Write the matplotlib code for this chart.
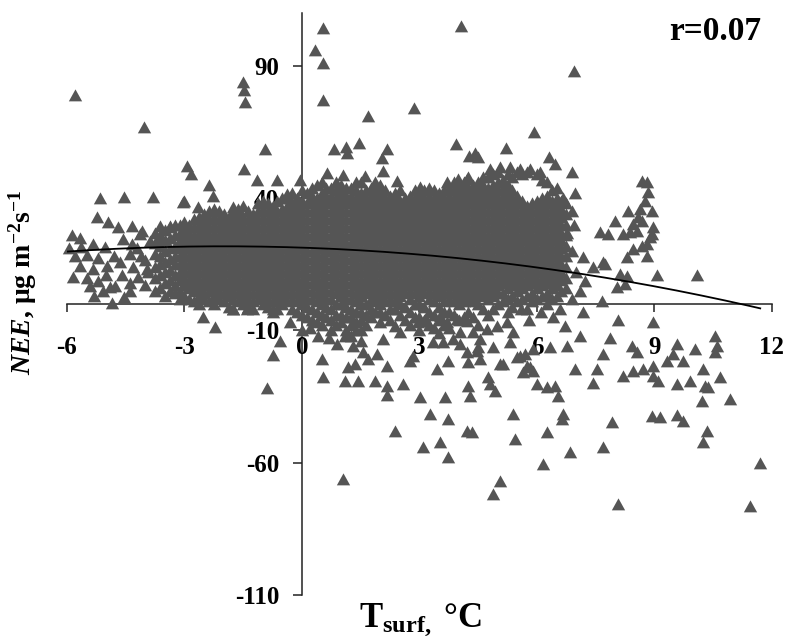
import numpy as np
import matplotlib
matplotlib.use("Agg")
import matplotlib.pyplot as plt
from matplotlib.path import Path

plt.rcParams['font.family'] = ['Liberation Serif', 'DejaVu Serif']
plt.rcParams['font.weight'] = 'bold'
plt.rcParams['axes.unicode_minus'] = False
plt.rcParams['mathtext.fontset'] = 'custom'
plt.rcParams['mathtext.rm'] = 'Liberation Serif:bold'
plt.rcParams['mathtext.it'] = 'Liberation Serif:italic:bold'
plt.rcParams['mathtext.bf'] = 'Liberation Serif:bold'

# surface temperature (degC) vs NEE
# dense part of the cloud: one list of NEE values per temperature column
core_t = [-3.75, -3.5, -3.25, -3.0, -2.75, -2.5, -2.25, -2.0, -1.75, -1.5,
          -1.25, -1.0, -0.75, -0.5, -0.25, 0.0, 0.25, 0.5, 0.75, 1.0,
          1.25, 1.5, 1.75, 2.0, 2.25, 2.5, 2.75, 3.0, 3.25, 3.5,
          3.75, 4.0, 4.25, 4.5, 4.75, 5.0, 5.25, 5.5, 5.75, 6.0,
          6.25, 6.5, 6.75]
core_nee = [
    [5, 10, 14, 19, 23, 27],
    [3, 8, 12, 16, 20, 24, 28],
    [4, 7, 11, 15, 18, 22, 26, 30],
    [3, 7, 10, 13, 16, 19, 22, 25, 28, 31],
    [1, 5, 8, 11, 14, 17, 20, 23, 26, 29, 32],
    [2, 4, 7, 10, 13, 16, 19, 22, 25, 28, 31, 34],
    [0, 3, 6, 9, 12, 15, 18, 21, 24, 27, 30, 33, 36],
    [1, 4, 7, 10, 13, 16, 19, 22, 25, 28, 31, 34],
    [-2, 2, 5, 8, 11, 14, 17, 20, 23, 26, 29, 32, 35],
    [0, 3, 6, 9, 12, 15, 18, 21, 24, 27, 30, 33, 37],
    [-2, 1, 4, 7, 10, 13, 16, 19, 22, 25, 28, 31, 34],
    [0, 3, 6, 9, 12, 15, 18, 21, 24, 27, 30, 33, 36, 39],
    [-3, 1, 4, 7, 10, 13, 16, 19, 22, 25, 28, 31, 34, 37],
    [0, 3, 6, 9, 12, 15, 18, 21, 24, 27, 30, 33, 36, 40],
    [-2, 2, 5, 8, 11, 14, 17, 20, 23, 26, 29, 32, 35, 38, 42],
    [-4, 0, 3, 6, 9, 12, 15, 18, 21, 24, 27, 30, 33, 36, 39, 43],
    [-6, -2, 2, 5, 8, 11, 14, 17, 20, 23, 26, 29, 32, 35, 38, 41, 44],
    [-8, -4, 0, 3, 6, 9, 12, 15, 18, 21, 24, 27, 30, 33, 36, 39, 42, 46],
    [-10, -6, -2, 2, 5, 8, 11, 14, 17, 20, 23, 26, 29, 32, 35, 38, 41, 44],
    [-7, -4, 0, 3, 6, 9, 12, 15, 18, 21, 24, 27, 30, 33, 36, 39, 42, 45],
    [-12, -8, -5, -2, 2, 5, 8, 11, 14, 17, 20, 23, 26, 29, 32, 35, 38, 41, 44],
    [-14, -10, -6, -3, 0, 3, 6, 9, 12, 15, 18, 21, 24, 27, 30, 33, 36, 39, 42, 46],
    [-5, -2, 2, 5, 8, 11, 14, 17, 20, 23, 26, 29, 32, 35, 38, 41, 44],
    [-3, 0, 3, 6, 9, 12, 15, 18, 21, 24, 27, 30, 33, 36, 39, 42, 45],
    [-6, -2, 2, 5, 8, 11, 14, 17, 20, 23, 26, 29, 32, 35, 38, 41],
    [-4, 0, 3, 6, 9, 12, 15, 18, 21, 24, 27, 30, 33, 36, 39, 43],
    [-8, -3, 2, 5, 8, 11, 14, 17, 20, 23, 26, 29, 32, 35, 38, 41],
    [-10, -5, 0, 3, 6, 9, 12, 15, 18, 21, 24, 27, 30, 33, 36, 39, 42],
    [-8, -3, 2, 5, 8, 11, 14, 17, 20, 23, 26, 29, 32, 35, 38, 41, 44],
    [-11, -6, -1, 3, 6, 9, 12, 15, 18, 21, 24, 27, 30, 33, 36, 39, 42],
    [-9, -3, 2, 5, 8, 11, 14, 17, 20, 23, 26, 29, 32, 35, 38, 41, 44],
    [-6, 0, 3, 6, 9, 12, 15, 18, 21, 24, 27, 30, 33, 36, 39, 42, 45],
    [-3, 2, 5, 8, 11, 14, 17, 20, 23, 26, 29, 32, 35, 38, 41, 44, 48],
    [-8, 0, 4, 7, 10, 13, 16, 19, 22, 25, 28, 31, 34, 37, 40, 43, 46],
    [-4, 2, 5, 8, 11, 14, 17, 20, 23, 26, 29, 32, 35, 38, 41, 44, 48],
    [0, 4, 7, 10, 13, 16, 19, 22, 25, 28, 31, 34, 37, 40, 43, 46, 50],
    [-3, 2, 6, 9, 12, 15, 18, 21, 24, 27, 30, 33, 36, 39, 42, 45, 49],
    [1, 5, 8, 11, 14, 17, 20, 23, 26, 29, 32, 35, 38, 41, 50],
    [-2, 3, 7, 10, 13, 16, 19, 22, 25, 28, 31, 34, 37, 50],
    [2, 6, 9, 12, 15, 18, 21, 24, 27, 30, 33, 36, 39, 49],
    [0, 4, 8, 11, 14, 17, 20, 23, 26, 29, 32, 35, 38, 41, 46],
    [3, 7, 10, 13, 16, 19, 22, 25, 28, 31, 34, 37, 40, 44],
    [6, 10, 14, 18, 22, 26, 30, 34, 38],
]

# columns in between the ones above
core2_t = [-3.625, -3.375, -3.125, -2.875, -2.625, -2.375, -2.125, -1.875, -1.625, -1.375,
           -1.125, -0.875, -0.625, -0.375, -0.125, 0.125, 0.375, 0.625, 0.875, 1.125,
           1.375, 1.625, 1.875, 2.125, 2.375, 2.625, 2.875, 3.125, 3.375, 3.625,
           3.875, 4.125, 4.375, 4.625, 4.875, 5.125, 5.375, 5.625, 5.875, 6.125,
           6.375, 6.625]
core2_nee = [
    [6, 11, 15, 18, 22, 26],
    [5, 9, 13, 17, 21, 25, 29],
    [2, 5, 9, 12, 15, 18, 21, 24, 27, 30],
    [2, 6, 9, 12, 15, 18, 21, 24, 27, 30],
    [0, 3, 6, 9, 12, 15, 18, 21, 24, 27, 30, 33],
    [1, 5, 8, 11, 14, 17, 20, 23, 26, 29, 32, 35],
    [2, 5, 8, 11, 14, 17, 20, 23, 26, 29, 32, 35],
    [-1, 3, 6, 9, 12, 15, 18, 21, 24, 27, 30, 33],
    [1, 4, 7, 10, 13, 16, 19, 22, 25, 28, 31, 34, 36],
    [-1, 2, 5, 8, 11, 14, 17, 20, 23, 26, 29, 32, 35],
    [2, 5, 8, 11, 14, 17, 20, 23, 26, 29, 32, 35, 38],
    [-1, 2, 5, 8, 11, 14, 17, 20, 23, 26, 29, 32, 35, 38],
    [-2, 2, 5, 8, 11, 14, 17, 20, 23, 26, 29, 32, 35, 39],
    [1, 4, 7, 10, 13, 16, 19, 22, 25, 28, 31, 34, 37, 40],
    [-3, 1, 4, 7, 10, 13, 16, 19, 22, 25, 28, 31, 34, 37, 40],
    [-5, -1, 2, 5, 8, 11, 14, 17, 20, 23, 26, 29, 32, 35, 38, 42],
    [-7, -3, 1, 4, 7, 10, 13, 16, 19, 22, 25, 28, 31, 34, 37, 40, 45],
    [-5, -1, 2, 5, 8, 11, 14, 17, 20, 23, 26, 29, 32, 35, 38, 41, 44],
    [-8, -4, 0, 4, 7, 10, 13, 16, 19, 22, 25, 28, 31, 34, 37, 40, 43, 46],
    [-10, -5, -1, 2, 5, 8, 11, 14, 17, 20, 23, 26, 29, 32, 35, 38, 41, 44],
    [-10, -7, -3, 1, 4, 7, 10, 13, 16, 19, 22, 25, 28, 31, 34, 37, 40, 43, 46],
    [-8, -4, 0, 4, 7, 10, 13, 16, 19, 22, 25, 28, 31, 34, 37, 40, 43],
    [-3, 1, 4, 7, 10, 13, 16, 19, 22, 25, 28, 31, 34, 37, 40, 43, 46],
    [-4, 1, 4, 7, 10, 13, 16, 19, 22, 25, 28, 31, 34, 37, 40, 43],
    [-2, 1, 4, 7, 10, 13, 16, 19, 22, 25, 28, 31, 34, 37, 40, 42],
    [-6, -1, 4, 7, 10, 13, 16, 19, 22, 25, 28, 31, 34, 37, 40],
    [-5, 0, 4, 7, 10, 13, 16, 19, 22, 25, 28, 31, 34, 37, 40, 43],
    [-6, -1, 4, 7, 10, 13, 16, 19, 22, 25, 28, 31, 34, 37, 40, 43],
    [-9, -4, 1, 4, 7, 10, 13, 16, 19, 22, 25, 28, 31, 34, 37, 40, 43],
    [-8, -3, 1, 4, 7, 10, 13, 16, 19, 22, 25, 28, 31, 34, 37, 40, 43],
    [-4, 1, 4, 7, 10, 13, 16, 19, 22, 25, 28, 31, 34, 37, 40, 43, 46],
    [-5, 1, 4, 7, 10, 13, 16, 19, 22, 25, 28, 31, 34, 37, 40, 43, 46],
    [-5, 1, 3, 6, 9, 12, 15, 18, 21, 24, 27, 30, 33, 36, 39, 42, 45],
    [-2, 3, 6, 9, 12, 15, 18, 21, 24, 27, 30, 33, 36, 39, 42, 45, 48],
    [-2, 3, 6, 9, 12, 15, 18, 21, 24, 27, 30, 33, 36, 39, 42, 45, 49],
    [1, 4, 8, 11, 14, 17, 20, 23, 26, 29, 32, 35, 38, 41, 44, 47],
    [-1, 3, 7, 10, 13, 16, 19, 22, 25, 28, 31, 34, 37, 40, 43, 48],
    [2, 6, 9, 12, 15, 18, 21, 24, 27, 30, 33, 36, 39, 49],
    [1, 4, 8, 11, 14, 17, 20, 23, 26, 29, 32, 35, 38],
    [3, 7, 10, 13, 16, 19, 22, 25, 28, 31, 34, 37, 40, 47],
    [2, 6, 9, 12, 15, 18, 21, 24, 27, 30, 33, 36, 39, 43],
    [5, 9, 12, 15, 18, 21, 24, 27, 30, 33, 36, 39],
]

# scattered points (t, nee)
left_pts = [(-5.8, 79), (-4.03, 67), (-5.16, 40), (-4.54, 40.5), (-3.8, 40.5),
            (-5.23, 33), (-5.87, 26), (-5.67, 25), (-4.95, 31), (-4.7, 29),
            (-4.34, 29.5), (-4.08, 27.7), (-4.14, 26.5), (-3.63, 29.5), (-3.37, 29.5),
            (-3.04, 38.6), (-5.34, 22.7), (-5.03, 21.6), (-4.57, 24.6), (-4.34, 22.7),
            (-3.88, 23.9), (-3.63, 24.6), (-5.8, 18), (-5.5, 18.5), (-5.2, 17.5),
            (-4.8, 18), (-4.4, 19), (-4.1, 18), (-5.67, 14.4), (-5.34, 13.3),
            (-4.98, 14.4), (-4.65, 15.9), (-4.31, 14), (-3.96, 13.3), (-5.85, 10.2),
            (-5.41, 6.8), (-5.08, 4.9), (-4.9, 6.4), (-4.77, 6.8), (-4.39, 4.9),
            (-4.19, 10.2), (-3.93, 12.1), (-4.6, 11), (-4.4, 8), (-4.0, 7),
            (-5.5, 10), (-5.2, 8.5), (-5.0, 11), (-4.2, 21), (-4.0, 16.5),
            (-5.95, 21), (-5.65, 21.5), (-4.85, 0.4), (-5.3, 3), (-4.55, 2.5)]

upper_pts = [(-1.5, 84), (-1.48, 81), (-1.46, 76.5), (0.53, 104.5), (0.33, 96),
             (0.53, 91), (0.53, 77), (1.68, 71), (-0.94, 58.7), (1.46, 61),
             (0.82, 58.5), (1.12, 59.5), (1.15, 57), (2.17, 58.5), (2.04, 55),
             (-2.94, 52), (-2.83, 49), (-1.48, 51), (-2.37, 45), (-1.15, 47),
             (-0.64, 47), (-0.05, 47), (-3.0, 39), (-2.27, 41), (-2.66, 36.7),
             (-1.76, 36.7), (-0.38, 41.7), (-0.23, 37), (4.06, 105), (6.94, 88),
             (2.86, 74), (5.92, 65), (3.93, 60.6), (4.26, 56), (4.42, 57),
             (4.49, 55.7), (5.21, 59), (6.31, 55.7), (6.46, 53), (6.89, 50),
             (6.97, 42), (0.64, 49.6), (1.05, 48.9), (1.61, 48.5), (2.07, 50.4),
             (2.43, 46.6), (3.01, 44.3), (3.7, 46.2), (3.98, 47.3), (4.21, 47.3),
             (4.8, 51), (5.05, 51.9), (5.31, 51.9), (5.57, 51), (5.82, 51), (6.08, 50)]

right_pts = [(8.68, 46.6), (8.8, 46.2), (8.83, 42.4), (8.76, 39), (8.94, 35),
             (8.63, 36), (8.58, 33), (8.68, 31.4), (8.45, 30.3), (8.96, 29),
             (8.94, 26.5), (8.88, 25.4), (8.55, 27.7), (8.37, 27.3), (8.2, 26.5),
             (8.8, 22.7), (8.68, 22), (8.45, 20.8), (8.8, 18.2), (8.3, 17.8),
             (8.32, 35), (7.99, 31.4), (7.61, 27.3), (7.81, 26.5), (7.17, 17.8),
             (7.43, 14), (7.68, 15.9), (7.74, 15.2), (8.12, 11.4), (8.3, 10.6),
             (8.04, 6.4), (8.25, 7.6), (9.06, 11), (10.08, 11), (7.22, 8.7),
             (7.1, 4.9), (7.66, 1.1), (6.66, 40), (6.89, 35), (6.77, 27),
             (6.89, 20), (7.0, 12), (6.95, 30)]

lower_pts = [(7.17, -3), (8.07, -6), (8.96, -6.8), (6.71, -8.3), (7.1, -12),
             (6.77, -16), (6.33, -16.3), (7.86, -13), (7.68, -19), (7.53, -24.6),
             (6.97, -24.6), (7.43, -30), (8.43, -16), (8.55, -18.2), (8.2, -27.3),
             (8.45, -25.4), (8.7, -24.6), (8.96, -23.5), (8.96, -27.3), (9.09, -29.2),
             (9.32, -21.6), (9.57, -15.2), (9.47, -18.9), (9.73, -21.6), (10.03, -17),
             (10.24, -24.6), (10.54, -12), (10.6, -15.9), (10.54, -18.2), (10.67, -27.7),
             (9.57, -30.3), (9.9, -29.2), (10.29, -31), (10.37, -31.4), (10.21, -36.7),
             (10.93, -36), (8.94, -42.4), (9.14, -42.8), (9.57, -42), (9.73, -44.3),
             (10.34, -48), (10.24, -52), (11.69, -60), (11.44, -76.5), (8.07, -75.8),
             (7.91, -44.7), (7.68, -54), (6.84, -56), (6.15, -60.6), (6.25, -48.5),
             (6.66, -41.7), (6.64, -43.6), (6.0, -30.3), (6.25, -31.4), (6.46, -31),
             (6.54, -34.8), (5.64, -25.8), (5.82, -23.9), (5.49, -20), (5.69, -19),
             (5.9, -17), (5.39, -41.7), (5.44, -51), (5.05, -67), (4.88, -72),
             (4.75, -27.7), (4.93, -33), (4.8, -30.3), (5.13, -22.7), (4.24, -31),
             (4.29, -34.8), (4.21, -48), (4.34, -48.5), (4.49, -16.3), (4.24, -22),
             (4.03, -15.2), (3.73, -21.6), (3.45, -24.6), (3.01, -35), (3.65, -35),
             (3.27, -41.7), (3.73, -43.6), (3.09, -54), (3.52, -52), (3.73, -58),
             (2.37, -48), (2.58, -30.3), (2.76, -21.6), (1.05, -66), (0.54, -27.7),
             (0.51, -20.8), (1.1, -29), (1.43, -29), (1.86, -29), (2.17, -31),
             (2.17, -34.5), (2.17, -23.5), (1.17, -24), (1.35, -22.7), (1.68, -20.8),
             (1.99, -6.8), (2.37, -8.3), (2.5, -10.6), (2.07, -13.3), (1.91, -19),
             (1.56, -18.2), (2.83, -19.7), (2.96, -6.8), (3.19, -6.4), (3.52, -4.5),
             (3.7, -6.8), (3.96, -5.7), (4.21, -6.4), (4.03, -10.6), (3.86, -13.3),
             (3.6, -14.4), (3.35, -14.4), (4.37, -10.6), (4.54, -13.3), (4.72, -9.5),
             (4.98, -8.3), (5.23, -6.8), (5.39, -10.6), (4.21, -18.2), (4.47, -17.8),
             (4.88, -16.3), (5.31, -14.4), (5.57, -19.7), (5.74, -23.5), (5.9, -25.4),
             (5.05, -22.7), (4.54, -20.8), (-0.56, -14), (-0.74, -19.3), (-0.9, -31.8),
             (-2.53, -4.9), (-2.22, -8.7), (-1.76, -1.9), (-1.4, -1.9), (-0.74, -1.9),
             (-0.3, -7), (0.0, -10), (6.1, -3), (6.4, -5), (5.8, -6),
             (6.6, -2), (6.9, 2), (6.3, 3), (5.6, -2), (0.2, -9),
             (0.4, -12), (0.9, -15), (1.1, -12), (1.3, -16), (0.7, -13)]

# polynomial trend line (quadratic), and the t range it is drawn over
trend_coef = [-0.125, -0.5, 21.3]
trend_t = [-6.0, 11.7]

r_text = "r=0.07"
xticks = [-6, -3, 0, 3, 6, 9, 12]
yticks = [-110, -60, -10, 40, 90]

t, nee = [], []
for cols_t, cols_nee in ((core_t, core_nee), (core2_t, core2_nee)):
    for x, col in zip(cols_t, cols_nee):
        t += [x] * len(col)
        nee += col
for pts in (left_pts, upper_pts, right_pts, lower_pts):
    for a, b in pts:
        t.append(a)
        nee.append(b)

# triangle a bit wider than tall, like the original markers
tri = Path([(-1, -0.88), (1, -0.88), (0, 0.92), (-1, -0.88)],
           [Path.MOVETO, Path.LINETO, Path.LINETO, Path.CLOSEPOLY])

fig = plt.figure(figsize=(7.87, 6.39), dpi=100)
ax = fig.add_axes([0.0851, 0.0689, 0.8958, 0.9108])

ax.scatter(t, nee, s=92, marker=tri, c='#555555', linewidths=0, zorder=2, clip_on=False)

tt = np.linspace(trend_t[0], trend_t[1], 200)
ax.plot(tt, np.polyval(trend_coef, tt), color='black', lw=1.3, zorder=3)

ax.set_xlim(-6, 12)
ax.set_ylim(-110, 110)
ax.set_xticks(xticks)
ax.set_yticks(yticks)

for side in ['top', 'right']:
    ax.spines[side].set_visible(False)
ax.spines['left'].set_position(('data', 0))
ax.spines['bottom'].set_position(('data', 0))
for side in ['left', 'bottom']:
    ax.spines[side].set_zorder(1)
    ax.spines[side].set_linewidth(1.1)
    ax.spines[side].set_color('#222222')

ax.tick_params(axis='x', direction='out', length=6, width=1.1, pad=17, labelsize=18, color='#222222')
ax.tick_params(axis='y', direction='out', length=6.5, width=1.1, pad=10, labelsize=18, color='#222222')

ax.text(10.54, 103, r_text, fontsize=24, ha='center', va='center')

fig.text(23 / 787, 1 - 282 / 639, r'$\mathit{NEE}$, μg m$^{-2}$s$^{-1}$',
         rotation=90, ha='center', va='center', fontsize=20)
fig.text(421 / 787, 1 - 627 / 639, r'T$_{\mathrm{surf,}}$ °C',
         ha='center', va='baseline', fontsize=25)

fig.savefig('out.png', dpi=100)
